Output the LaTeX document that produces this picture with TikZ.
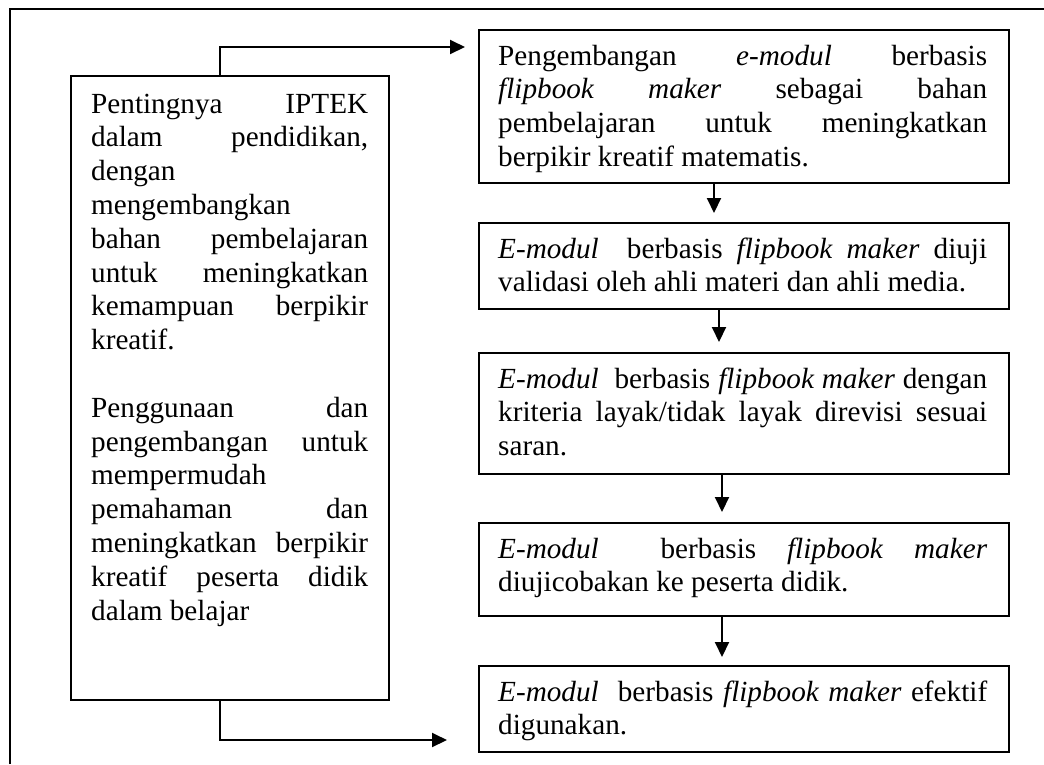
\documentclass[tikz,border=0pt]{standalone}
\usepackage{fontspec}
\setmainfont{Liberation Serif}
\usetikzlibrary{arrows.meta}
\newcommand{\J}[1]{\makebox[\linewidth][s]{#1}\par}
\newcommand{\Lz}[1]{#1\par}
\newcommand{\txtfont}{\fontsize{29.2pt}{33.8pt}\selectfont}
\begin{document}
\begin{tikzpicture}[x=1pt,y=-1pt,
  boxst/.style={draw, line width=2pt, inner sep=0pt, anchor=north west},
  txt/.style={anchor=base west, inner sep=0pt, font=\txtfont},
  arr/.style={line width=2pt, -{Triangle[length=15pt,width=14pt]}}]
\useasboundingbox (0,0) rectangle (1044,764);
\draw[line width=2pt] (10,764) -- (10,9) -- (1044,9);

% boxes
\node[boxst, minimum width=318pt, minimum height=624pt] (L) at (70,75) {};
\node[boxst, minimum width=530pt, minimum height=153pt] (b1) at (478,29) {};
\node[boxst, minimum width=530pt, minimum height=86pt] (b2) at (478,222) {};
\node[boxst, minimum width=530pt, minimum height=121pt] (b3) at (478,352) {};
\node[boxst, minimum width=530pt, minimum height=93pt] (b4) at (478,522) {};
\node[boxst, minimum width=530pt, minimum height=86pt] (b5) at (478,665) {};

% texts
\node[txt] (tL) at (91,113) {\begin{minipage}[t]{277pt}\txtfont
\J{Pentingnya IPTEK}
\J{dalam pendidikan,}
\Lz{dengan}
\Lz{mengembangkan}
\J{bahan pembelajaran}
\J{untuk meningkatkan}
\J{kemampuan berpikir}
\Lz{kreatif.}
\Lz{\mbox{}}
\J{Penggunaan dan}
\J{pengembangan untuk}
\Lz{mempermudah}
\J{pemahaman dan}
\J{meningkatkan berpikir}
\J{kreatif peserta didik}
\Lz{dalam belajar}
\end{minipage}};

\node[txt] (t1) at (498,65) {\begin{minipage}[t]{489pt}\txtfont
\J{Pengembangan \textit{e-modul} berbasis}
\J{\textit{flipbook maker} sebagai bahan}
\J{pembelajaran untuk meningkatkan}
\Lz{berpikir kreatif matematis.}
\end{minipage}};

\node[txt] (t2) at (498,258) {\begin{minipage}[t]{489pt}\txtfont
\J{\textit{E-modul}\ \ berbasis \textit{flipbook maker} diuji}
\Lz{validasi oleh ahli materi dan ahli media.}
\end{minipage}};

\node[txt] (t3) at (498,388) {\begin{minipage}[t]{489pt}\txtfont
\J{\textit{E-modul}\ \ berbasis \textit{flipbook maker} dengan}
\J{kriteria layak/tidak layak direvisi sesuai}
\Lz{saran.}
\end{minipage}};

\node[txt] (t4) at (498,558) {\begin{minipage}[t]{489pt}\txtfont
\J{\textit{E-modul}\ \ berbasis \textit{flipbook} \textit{maker}}
\Lz{diujicobakan ke peserta didik.}
\end{minipage}};

\node[txt] (t5) at (498,701) {\begin{minipage}[t]{489pt}\txtfont
\J{\textit{E-modul}\ \ berbasis \textit{flipbook maker} efektif}
\Lz{digunakan.}
\end{minipage}};

% connectors
\coordinate (x1) at (714,0);
\coordinate (x2) at (719,0);
\coordinate (x3) at (722,0);
\coordinate (x4) at (722,0);
\draw[arr, shorten >=9pt] (b1.south -| x1) -- (b2.north -| x1);
\draw[arr, shorten >=10pt] (b2.south -| x2) -- (b3.north -| x2);
\draw[arr, shorten >=10pt] (b3.south -| x3) -- (b4.north -| x3);
\draw[arr, shorten >=8pt] (b4.south -| x4) -- (b5.north -| x4);

\coordinate (c1) at (220,47);
\coordinate (c2) at (220,740);
\draw[arr, shorten >=13pt] (L.north -| c1) -- (c1) -- (c1 -| b1.west);
\draw[arr, shorten >=31pt] (L.south -| c2) -- (c2) -- (c2 -| b5.west);
\end{tikzpicture}
\end{document}
